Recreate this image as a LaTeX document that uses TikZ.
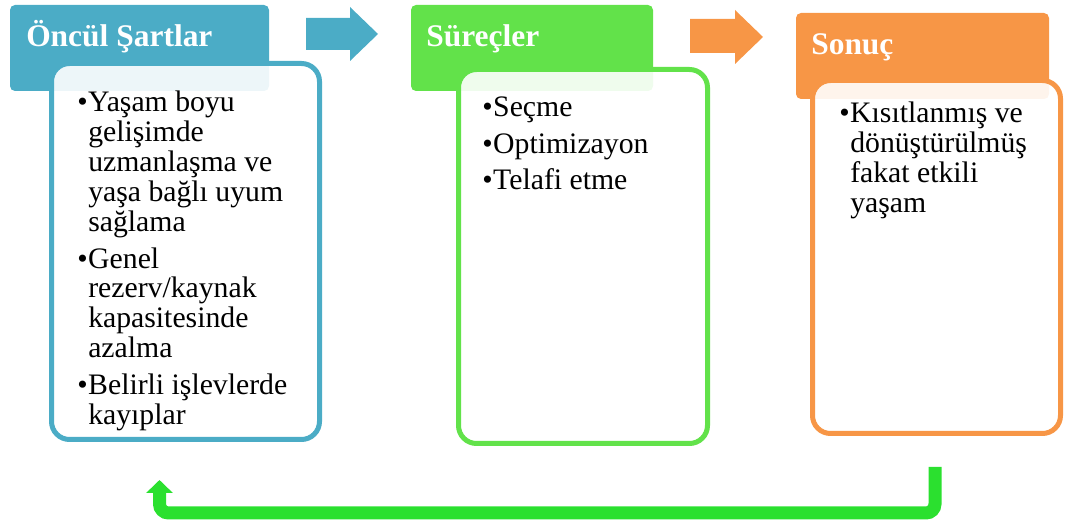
\documentclass[tikz,border=0pt]{standalone}
\usepackage{fontspec}
\setmainfont{Liberation Serif}
\usetikzlibrary{arrows.meta,fit,calc}
\definecolor{cteal}{RGB}{75,172,198}
\definecolor{cgreen}{RGB}{98,226,74}
\definecolor{corange}{RGB}{247,150,70}
\definecolor{carrow}{RGB}{43,224,47}
\newcommand{\itm}[1]{\par\noindent\hangindent=8.25pt\hangafter=1\makebox[8.25pt][l]{•}#1}
\newcommand{\blist}[2]{\parbox[t]{#1}{\fontsize{22.3}{22.45}\selectfont\raggedright\parskip=4.8pt #2}}
\tikzset{
  hdr/.style={inner sep=0pt, rounded corners=3.75pt},
  hdrtext/.style={anchor=base west, inner sep=0pt, text=white, font=\fontsize{23.6}{28}\selectfont\bfseries},
  body/.style={inner sep=0pt, line width=3.75pt, fill=white, fill opacity=0.9, rounded corners=13.5pt},
  bodytext/.style={anchor=base west, inner sep=0pt, text=black},
  conn/.style={draw=carrow, line width=9.75pt, rounded corners=6.75pt, -{Triangle[width=19.5pt,length=9.75pt]}}
}
\begin{document}
\begin{tikzpicture}[x=0.75pt,y=-0.75pt]
\useasboundingbox (0,0) rectangle (1065,523);
% headers
\node[hdr, fill=cteal, fit={(10,5) (269,91)}] (h1) {};
\node[hdr, fill=cgreen, fit={(411,5) (653,91)}] (h2) {};
\node[hdr, fill=corange, fit={(796,13) (1049,99)}] (h3) {};
\node[hdrtext] (t1) at (26,47) {Öncül Şartlar};
\node[hdrtext] (t2) at (426,47) {Süreçler};
\node[hdrtext] (t3) at (811,55) {Sonuç};
% bodies
\node[body, draw=cteal, fit={(51.5,63.5) (319.5,439.5)}] (b1) {};
\node[body, draw=cgreen, fit={(458.5,69.5) (707.5,443.5)}] (b2) {};
\node[body, draw=corange, fit={(812.5,80.5) (1060.5,433.5)}] (b3) {};
\node[bodytext] (l1) at (77,112) {\blist{200pt}{%
\itm{Yaşam boyu\newline gelişimde\newline uzmanlaşma ve\newline yaşa bağlı uyum\newline sağlama}
\itm{Genel\newline rezerv/kaynak\newline kapasitesinde\newline azalma}
\itm{Belirli işlevlerde\newline kayıplar}}};
\node[bodytext] (l2) at (482,117) {\blist{180pt}{%
\itm{Seçme}
\itm{Optimizayon}
\itm{Telafi etme}}};
\node[bodytext] (l3) at (839,123) {\blist{180pt}{%
\itm{Kısıtlanmış ve\newline dönüştürülmüş\newline fakat etkili\newline yaşam}}};
% block arrows
\fill[cteal] (306,18) -- (350,18) -- (350,7) -- (378,34) -- (350,61) -- (350,50) -- (306,50) -- cycle;
\fill[corange] (690,19) -- (735,19) -- (735,10) -- (763,37) -- (735,64) -- (735,53) -- (690,53) -- cycle;
% feedback connector
\coordinate (fs) at (935,467);
\coordinate (fe) at (159.5,480);
\draw[conn] (fs) |- ($(fe)+(0,33)$) -- (fe);
\end{tikzpicture}
\end{document}
